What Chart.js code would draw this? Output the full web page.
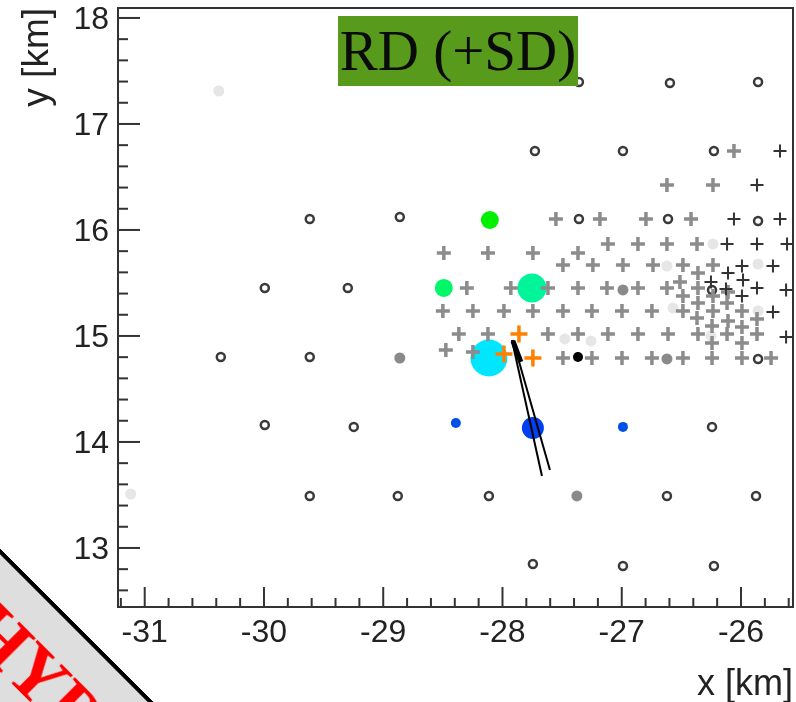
<!DOCTYPE html>
<html><head><meta charset="utf-8">
<style>
html,body{margin:0;padding:0;background:#fff;width:796px;height:702px;overflow:hidden;position:relative}
canvas{display:block;filter:blur(0.5px)}
#tag{position:absolute;left:338px;top:16px;width:240px;height:70px;background:#579a1c;color:#0a0a0a;font:57px "Liberation Serif",serif;line-height:70px;text-align:center;white-space:nowrap}
#band{position:absolute;left:0;top:0;width:1000px;height:220px;background:#dedede;border-top:4px solid #000;box-sizing:border-box;transform-origin:0 0;transform:rotate(45deg) translate(0,388px)}
#band span{position:absolute;left:421px;top:22px;color:#ff0000;font:bold 73px "Liberation Serif",serif;line-height:73px;white-space:nowrap}
</style></head><body>
<canvas id="c" width="796" height="702"></canvas>
<div id="tag">RD (+SD)</div>
<div id="band"><span>HYP</span></div>
<script src="https://cdn.jsdelivr.net/npm/chart.js@4/dist/chart.umd.min.js"></script>
<script>
const xTickLabels=[-31,-30,-29,-28,-27,-26];
const yTickLabels=[13,14,15,16,17,18];
const ringX=[-27.359,-26.596,-25.857,-27.728,-26.99,-26.227,-29.616,-28.861,-27.359,-26.612,-25.857,-29.993,-29.297,-26.243,-30.362,-29.616,-25.857,-29.993,-29.247,-26.243,-29.616,-28.878,-28.114,-26.621,-25.874,-27.745,-26.99,-26.227];
const ringY=[17.396,17.387,17.396,16.745,16.745,16.745,16.104,16.123,16.104,16.104,16.085,15.453,15.453,15.434,14.802,14.802,14.783,14.16,14.142,14.142,13.491,13.491,13.491,13.491,13.491,12.849,12.83,12.83];
const grayDotX=[-28.861,-26.99,-26.621,-27.376];
const grayDotY=[14.792,15.434,14.783,13.491];
const paleDotX=[-30.379,-31.117,-27.477,-27.258,-26.621,-26.235,-25.857,-26.57,-25.857,-26.252];
const paleDotY=[17.311,13.509,14.972,14.953,15.66,15.868,15.679,15.264,15.236,15.0];
const blackDotX=[-27.367];
const blackDotY=[14.802];
const signalX=[-28.106,-28.492,-27.753,-28.114,-27.745,-28.391,-26.99];
const signalY=[16.094,15.453,15.453,14.792,14.132,14.179,14.142];
const signalRadius=[9,9,14.5,18.5,11,5,5];
const signalColor=['#00f000','#00f868','#00f59a','#00e6ff','#0040f0','#0050e8','#0050e8'];
const grayPlusX=[-26.059,-26.621,-26.235,-27.552,-27.183,-26.797,-26.419,-27.116,-26.864,-26.621,-26.369,-28.492,-28.122,-27.745,-27.367,-27.493,-27.242,-26.99,-26.738,-26.487,-26.235,-26.361,-26.512,-28.299,-27.93,-27.619,-27.367,-27.124,-26.864,-26.621,-26.361,-26.487,-26.235,-26.109,-26.361,-26.117,-28.5,-28.248,-27.988,-27.745,-27.493,-27.25,-26.998,-26.747,-26.487,-26.235,-25.992,-26.369,-26.109,-25.866,-26.243,-25.992,-28.366,-28.122,-27.619,-27.367,-27.116,-26.864,-26.612,-26.361,-26.117,-25.866,-26.243,-25.992,-28.475,-28.248,-27.493,-27.25,-26.998,-26.747,-26.487,-26.243,-25.992,-25.748];
const grayPlusY=[16.745,16.425,16.425,16.104,16.104,16.104,16.104,15.868,15.868,15.868,15.868,15.783,15.783,15.783,15.783,15.67,15.67,15.67,15.67,15.67,15.67,15.594,15.509,15.453,15.453,15.453,15.453,15.453,15.453,15.453,15.453,15.377,15.377,15.415,15.311,15.311,15.236,15.236,15.236,15.236,15.236,15.236,15.236,15.236,15.236,15.236,15.236,15.17,15.142,15.16,15.094,15.085,15.019,15.019,15.019,15.019,15.019,15.019,15.019,15.019,15.019,15.019,14.934,14.934,14.868,14.849,14.792,14.792,14.792,14.792,14.792,14.792,14.792,14.792];
const darkPlusX=[-25.673,-25.866,-26.059,-25.673,-26.117,-25.866,-25.614,-25.992,-25.732,-26.109,-26.252,-25.983,-26.126,-25.866,-25.622,-25.992,-25.732,-25.622];
const darkPlusY=[16.745,16.425,16.104,16.104,15.868,15.868,15.868,15.66,15.66,15.594,15.509,15.528,15.443,15.453,15.434,15.377,15.226,14.991];
const orangeX=[-27.862,-27.988,-27.745];
const orangeY=[15.019,14.83,14.792];
const trackAX=[-27.921,-27.669];
const trackAY=[14.962,13.679];
const trackBX=[-27.913,-27.602];
const trackBY=[14.962,13.736];
const arrowX=[-27.913,-27.846];
const arrowY=[14.953,14.755];

const zip=(xs,ys)=>xs.map((x,i)=>({x,y:ys[i]}));
const pts=(xs,ys,o)=>Object.assign({type:'scatter',data:zip(xs,ys),showLine:false,pointHoverRadius:0},o);
const line=(xs,ys,w)=>({type:'scatter',data:zip(xs,ys),showLine:true,borderColor:'#000',borderWidth:w,pointRadius:0,order:1});
const noPad=s=>{s.paddingLeft=s.paddingRight=s.paddingTop=s.paddingBottom=0;};

const inkColor='#333';
const frame={id:'frame',
 beforeDraw(ch){
  for(const it of ch.scales.y.getLabelItems()){
    if(!it.shifted){it.options.translation[1]+=2;it.shifted=true;}
  }
 },
 afterDatasetsDraw(ch){
  const {ctx,chartArea:a,scales:{x,y}}=ch;
  ctx.save();ctx.strokeStyle=inkColor;ctx.lineWidth=2;
  ctx.strokeRect(a.left,a.top,a.right-a.left,a.bottom-a.top);
  for(let i=-160;i<=-125;i++){const v=i/5,p=x.getPixelForValue(v);
    if(p<=a.left||p>=a.right)continue;
    const L=i%5===0?20:9;ctx.beginPath();ctx.moveTo(p,a.bottom);ctx.lineTo(p,a.bottom-L);ctx.stroke();}
  for(let i=60;i<=95;i++){const v=i/5,p=y.getPixelForValue(v);
    if(p<=a.top||p>=a.bottom)continue;
    const L=i%5===0?22:10;ctx.beginPath();ctx.moveTo(a.left,p);ctx.lineTo(a.left+L,p);ctx.stroke();}
  ctx.restore();
}};

new Chart(document.getElementById('c'),{
  type:'scatter',
  data:{datasets:[
    pts(orangeX,orangeY,{order:2,pointStyle:'cross',pointRadius:8.5,pointBorderWidth:3.5,pointBorderColor:'#ff8000'}),
    line(trackAX,trackAY,2),
    line(trackBX,trackBY,2),
    line(arrowX,arrowY,5),
    pts(darkPlusX,darkPlusY,{order:3,pointStyle:'cross',pointRadius:6.5,pointBorderWidth:2,pointBorderColor:'#333'}),
    pts(grayPlusX,grayPlusY,{order:4,pointStyle:'cross',pointRadius:7,pointBorderWidth:3.5,pointBorderColor:'#8c8c8c'}),
    pts(ringX,ringY,{order:5,pointRadius:4,pointBorderWidth:2.5,pointBorderColor:'#3a3a3a',pointBackgroundColor:'#fff'}),
    pts(blackDotX,blackDotY,{order:5,pointRadius:5,pointBorderWidth:0,pointBackgroundColor:'#000'}),
    pts(grayDotX,grayDotY,{order:6,pointRadius:5.5,pointBorderWidth:0,pointBackgroundColor:'#8a8a8a'}),
    pts(paleDotX,paleDotY,{order:6,pointRadius:5.5,pointBorderWidth:0,pointBackgroundColor:'#e6e6e6'}),
    pts(signalX,signalY,{order:7,pointRadius:signalRadius,pointBorderWidth:0,pointBackgroundColor:signalColor})
  ]},
  options:{
    responsive:false,animation:false,
    layout:{autoPadding:false,padding:{top:8,right:3,left:0,bottom:0}},
    plugins:{legend:{display:false},tooltip:{enabled:false},title:{display:false}},
    scales:{
      x:{type:'linear',min:-31.224,max:-25.564,
        afterBuildTicks(s){s.ticks=xTickLabels.map(v=>({value:v}));},
        afterFit(s){s.height=95;noPad(s);},
        grid:{display:false,drawTicks:false},border:{display:false},
        ticks:{autoSkip:false,maxRotation:0,padding:7,color:'#222',font:{family:'"Liberation Sans"',size:32},callback:v=>String(v)},
        title:{display:true,text:'x [km]',align:'end',color:'#222',font:{family:'"Liberation Sans"',size:36},padding:{top:0,bottom:-5}}},
      y:{type:'linear',min:12.443,max:18.094,
        afterBuildTicks(s){s.ticks=yTickLabels.map(v=>({value:v}));},
        afterFit(s){s.width=118;noPad(s);},
        grid:{display:false,drawTicks:false},border:{display:false},
        ticks:{autoSkip:false,padding:9,color:'#222',font:{family:'"Liberation Sans"',size:32},callback:v=>String(v)},
        title:{display:true,text:'y [km]',align:'end',color:'#222',font:{family:'"Liberation Sans"',size:37},padding:{top:16,bottom:0}}}
    }
  },
  plugins:[frame]
});
</script>
</body></html>
